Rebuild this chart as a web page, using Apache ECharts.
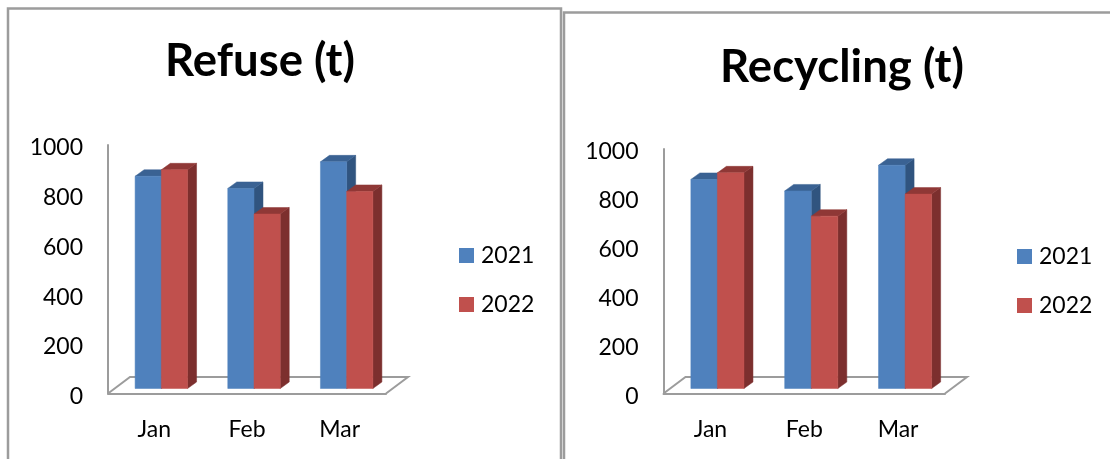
<!DOCTYPE html>
<html>
<head>
<meta charset="utf-8">
<title>Refuse and Recycling</title>
<style>
  html, body { margin: 0; padding: 0; background: #fff; }
  #chart { width: 1110px; height: 459px; }
</style>
<script src="https://cdn.jsdelivr.net/npm/echarts@6/dist/echarts.min.js"></script>
</head>
<body>
<div id="chart"></div>
<script>
// Monthly tonnages for the two waste streams
const months = ['Jan', 'Feb', 'Mar'];
const refuse2021 = [854, 805, 912];
const refuse2022 = [880, 702, 793];
const recycling2021 = [855, 808, 913];
const recycling2022 = [882, 705, 795];
const yTicks = { min: 0, max: 1000, interval: 200 };

const FONT = 'Lato';
const AXIS_GREY = '#9c9c9c';
const BLUE = { front: '#4f81bd', top: '#3a6293', side: '#30547f' };
const RED = { front: '#c0504d', top: '#8f3836', side: '#7c2f2e' };

// Extruded column: front face plus top and side faces sheared up and to the right.
function columnRenderer(palette, slot, shiftX, depthX, depthY, baseLift) {
  return function (params, api) {
    const cat = api.value(0);
    const top = api.coord([cat, api.value(1)]);
    const base = api.coord([cat, 0]);
    const w = api.size([1, 0])[0] * 0.283;
    const x0 = top[0] + shiftX + (slot === 0 ? -w : 0);
    const x1 = x0 + w;
    const yT = top[1] - baseLift;
    const yB = base[1] - baseLift;
    const poly = (points, fill) => ({
      type: 'polygon',
      shape: { points },
      style: { fill, stroke: fill, lineWidth: 0.5 }
    });
    return {
      type: 'group',
      children: [
        poly([[x1, yT], [x1 + depthX, yT - depthY], [x1 + depthX, yB - depthY], [x1, yB]], palette.side),
        poly([[x0, yT], [x0 + depthX, yT - depthY], [x1 + depthX, yT - depthY], [x1, yT]], palette.top),
        poly([[x0, yT], [x1, yT], [x1, yB], [x0, yB]], palette.front)
      ]
    };
  };
}

// Slanted floor outline behind the columns.
function floorRenderer(slantX, slantY) {
  return function (params) {
    const r = params.coordSys;
    const b = r.y + r.height;
    return {
      type: 'polyline',
      shape: { points: [[r.x, b], [r.x + slantX, b - slantY], [r.x + r.width + slantX, b - slantY], [r.x + r.width, b]] },
      style: { fill: null, stroke: AXIS_GREY, lineWidth: 2 }
    };
  };
}

function rows(values) { return values.map((v, i) => [i, v]); }

function panelSeries(idx, first, second, shiftX) {
  const common = { type: 'custom', xAxisIndex: idx, yAxisIndex: idx, clip: false, silent: true, encode: { x: 0, y: 1 } };
  return [
    Object.assign({}, common, { name: 'floor' + idx, data: [[0, 0]], renderItem: floorRenderer(22, 16.5), z: 1 }),
    Object.assign({}, common, { name: '2021', data: rows(first), itemStyle: { color: BLUE.front }, renderItem: columnRenderer(BLUE, 0, shiftX, 9, 6.5, 5), z: 2 }),
    Object.assign({}, common, { name: '2022', data: rows(second), itemStyle: { color: RED.front }, renderItem: columnRenderer(RED, 1, shiftX, 9, 6.5, 5), z: 3 })
  ];
}

function panelAxes(idx) {
  return {
    x: {
      type: 'category', gridIndex: idx, data: months,
      axisLine: { show: true, lineStyle: { color: AXIS_GREY, width: 2 } },
      axisTick: { show: false },
      axisLabel: { color: '#000', fontFamily: FONT, fontSize: 23, margin: 25 }
    },
    y: {
      type: 'value', gridIndex: idx, min: yTicks.min, max: yTicks.max, interval: yTicks.interval,
      axisLine: { show: true, lineStyle: { color: AXIS_GREY, width: 2 } },
      axisTick: { show: false },
      splitLine: { show: false },
      axisLabel: {
        color: '#000', fontFamily: FONT, fontSize: 23, margin: 25,
        verticalAlign: 'top', lineHeight: 6,
        formatter: (v) => String(v)
      }
    }
  };
}

const axesA = panelAxes(0);
const axesB = panelAxes(1);

function legendAt(left, top) {
  return {
    data: ['2021', '2022'], orient: 'vertical', left, top, icon: 'rect', padding: 0,
    itemWidth: 15, itemHeight: 15, itemGap: 26, selectedMode: false,
    textStyle: { color: '#000', fontFamily: FONT, fontSize: 23, padding: [0, 0, 0, 2] }
  };
}

function titleAt(text, left, top) {
  return { text, left, top, padding: 0, textAlign: 'center', textStyle: { color: '#000', fontFamily: FONT, fontWeight: 'bold', fontSize: 45.5 } };
}

// Frames around the two chart panels.
function frame(points) {
  return { type: 'polyline', shape: { points }, style: { fill: null, stroke: AXIS_GREY, lineWidth: 2.5 }, silent: true };
}

const chart = echarts.init(document.getElementById('chart'), null, { renderer: 'canvas' });
chart.setOption({
  animation: false,
  backgroundColor: '#fff',
  title: [titleAt('Refuse (t)', 260, 38), titleAt('Recycling (t)', 842, 44)],
  legend: [legendAt(459, 244), legendAt(1017, 245)],
  grid: [
    { left: 108, top: 145, width: 278, height: 248.5 },
    { left: 663.5, top: 149, width: 281.5, height: 244.5 }
  ],
  xAxis: [axesA.x, axesB.x],
  yAxis: [axesA.y, axesB.y],
  series: [
    ...panelSeries(0, refuse2021, refuse2022, 7),
    ...panelSeries(1, recycling2021, recycling2022, 7)
  ],
  graphic: [
    frame([[8, 459], [8, 8.5], [561, 8.5], [561, 459]]),
    frame([[564, 459], [564, 12.5], [1110, 12.5]])
  ]
});
</script>
</body>
</html>
